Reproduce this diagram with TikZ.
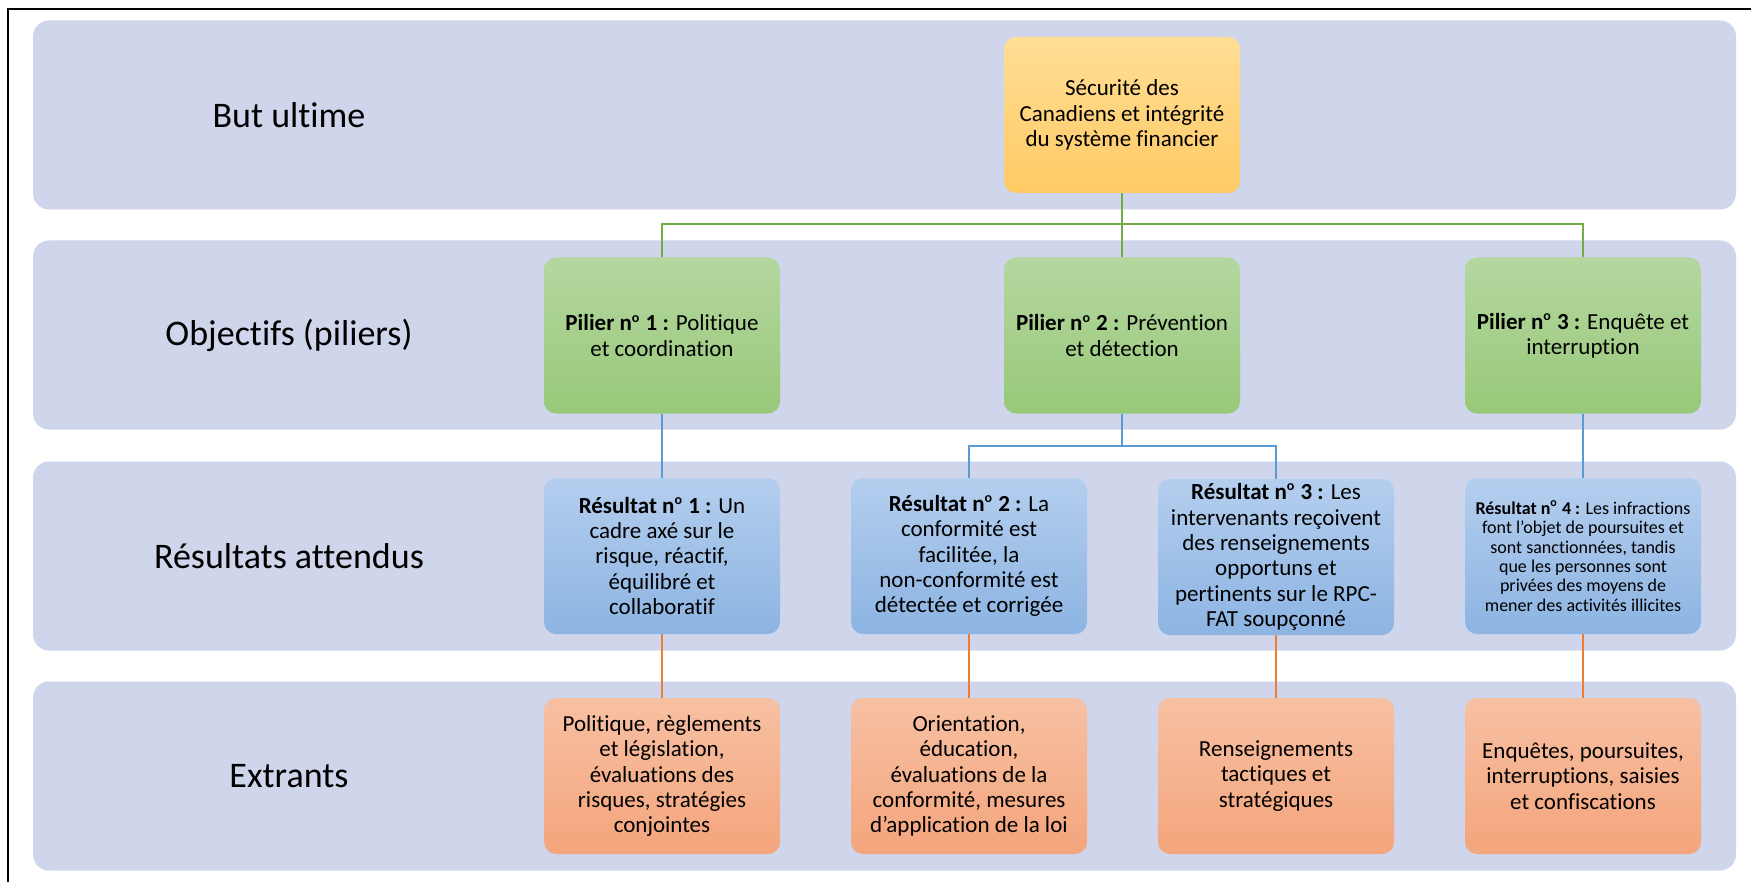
\documentclass[tikz,border=0pt]{standalone}
\usepackage{fontspec}
\setmainfont{Carlito}[Ligatures=NoCommon]
\usetikzlibrary{positioning}
\definecolor{bandBlue}{RGB}{207,213,234}
\definecolor{goalTop}{RGB}{255,222,150}
\definecolor{goalBot}{RGB}{255,202,100}
\definecolor{pilTop}{RGB}{180,215,160}
\definecolor{pilBot}{RGB}{152,200,120}
\definecolor{resTop}{RGB}{180,206,238}
\definecolor{resBot}{RGB}{140,180,226}
\definecolor{outTop}{RGB}{247,192,163}
\definecolor{outBot}{RGB}{244,165,124}
\definecolor{lnGreen}{RGB}{112,173,71}
\definecolor{lnBlue}{RGB}{91,155,213}
\definecolor{lnOrange}{RGB}{237,125,49}
\newcommand{\numo}{n\textsuperscript{\scriptsize o}}
\tikzset{
  band/.style={rounded corners=8pt, fill=bandBlue, minimum width=851.5pt, minimum height=94.5pt, inner sep=0pt},
  rowlabel/.style={font=\fontsize{18}{21}\selectfont, align=center},
  box/.style={rounded corners=6pt, minimum width=118pt, minimum height=78pt, inner sep=2pt, align=center, font=\fontsize{11.5}{12.7}\selectfont},
  goalbox/.style={box, top color=goalTop, bottom color=goalBot},
  pilbox/.style={box, top color=pilTop, bottom color=pilBot},
  resbox/.style={box, top color=resTop, bottom color=resBot},
  outbox/.style={box, top color=outTop, bottom color=outBot},
  link/.style={line width=1pt}
}
\begin{document}
\begin{tikzpicture}[x=0.5pt, y=-0.5pt]
  \useasboundingbox (0,0) rectangle (1751,882);
  \draw[line width=0.8pt] (8,882) -- (8,9) -- (1751,9);
  % Bands
  \node[band] (bandGoal) at (884.5,115) {};
  \node[band] (bandPil) at (884.5,335) {};
  \node[band] (bandRes) at (884.5,556) {};
  \node[band] (bandOut) at (884.5,776) {};
  \node[rowlabel] (lblGoal) at (289,115) {But ultime};
  \node[rowlabel] (lblPil) at (289,335) {Objectifs (piliers)};
  \node[rowlabel] (lblRes) at (289,556) {Résultats attendus};
  \node[rowlabel] (lblOut) at (289,776) {Extrants};
  % Split points
  \coordinate (gSplit) at (1122,224.5);
  \coordinate (bSplit) at (1122,445.5);
  % Goal
  \node[goalbox] (goal) at (1122,115) {Sécurité des\\Canadiens et intégrité\\du système financier};
  % Pillars
  \node[pilbox] (p1) at (662,335.5) {\textbf{Pilier \numo{} 1 :} Politique\\et coordination};
  \node[pilbox] (p2) at (1122,335.5) {\textbf{Pilier \numo{} 2 :} Prévention\\et détection};
  \node[pilbox] (p3) at (1583,335.5) {\textbf{Pilier \numo{} 3 :} Enquête et\\interruption};
  % Results
  \node[resbox] (r1) at (662,556) {\textbf{Résultat \numo{} 1 :} Un\\cadre axé sur le\\risque, réactif,\\équilibré et\\collaboratif};
  \node[resbox] (r2) at (969,556) {\textbf{Résultat \numo{} 2 :} La\\conformité est\\facilitée, la\\non-conformité est\\détectée et corrigée};
  \node[resbox] (r3) at (1276,557) {\textbf{Résultat \numo{} 3 :} Les\\intervenants reçoivent\\des renseignements\\opportuns et\\pertinents sur le RPC-\\FAT soupçonné};
  \node[resbox, font=\fontsize{9}{9.7}\selectfont] (r4) at (1583,556) {\textbf{Résultat n\textsuperscript{o} 4 :} Les infractions\\font l'objet de poursuites et\\sont sanctionnées, tandis\\que les personnes sont\\privées des moyens de\\mener des activités illicites};
  % Outputs
  \node[outbox] (o1) at (662,776) {Politique, règlements\\et législation,\\évaluations des\\risques, stratégies\\conjointes};
  \node[outbox] (o2) at (969,776) {Orientation,\\éducation,\\évaluations de la\\conformité, mesures\\d’application de la loi};
  \node[outbox] (o3) at (1276,776) {Renseignements\\tactiques et\\stratégiques};
  \node[outbox] (o4) at (1583,776) {Enquêtes, poursuites,\\interruptions, saisies\\et confiscations};
  % Links
  \draw[link, lnGreen] (goal.south) -- (gSplit);
  \draw[link, lnGreen] (p1.north) |- (gSplit) -| (p3.north);
  \draw[link, lnGreen] (gSplit) -- (p2.north);
  \draw[link, lnBlue] (p1) -- (r1);
  \draw[link, lnBlue] (p2.south) -- (bSplit);
  \draw[link, lnBlue] (r2.north) |- (bSplit) -| (r3.north);
  \draw[link, lnBlue] (p3) -- (r4);
  \foreach \i in {1,...,4}
    \draw[link, lnOrange] (r\i) -- (o\i);
\end{tikzpicture}
\end{document}
